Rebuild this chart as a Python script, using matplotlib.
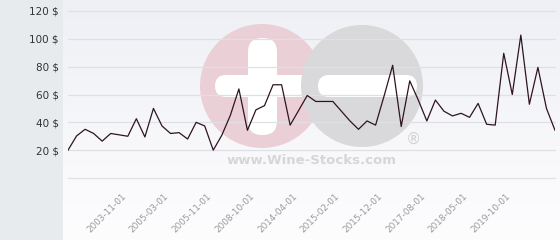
import numpy as np
import matplotlib.pyplot as plt
from matplotlib.colors import LinearSegmentedColormap
from matplotlib.patches import Circle, FancyBboxPatch

# price history (USD), one point per sample
prices = [20, 30.2, 35, 32, 26.5, 32, 31, 30, 42.6, 29.5,
          50, 37.4, 32, 32.6, 28, 40, 37.4, 20, 30.7, 45,
          64, 34.3, 49, 52, 67, 67, 38, 48.6, 59.3, 55,
          55, 55, 48, 41, 35, 41, 38, 59, 81, 37,
          69.8, 56, 41, 56, 48, 44.6, 46.5, 43.6, 53.6, 38.6,
          38, 89.6, 60, 102.7, 53, 79.5, 50, 34.3]
tick_idx = [7, 12, 17, 22, 27, 32, 37, 42, 47, 52]
tick_labels = ['2003-11-01', '2005-03-01', '2005-11-01', '2008-10-01', '2014-04-01',
               '2015-02-01', '2015-12-01', '2017-08-01', '2018-05-01', '2019-10-01']
y_ticks = [0, 20, 40, 60, 80, 100, 120]

W, H = 560, 240
fig = plt.figure(figsize=(W / 100, H / 100), dpi=100)

# background layer in pixel coordinates
bg = fig.add_axes([0, 0, 1, 1])
bg.set_xlim(0, W)
bg.set_ylim(H, 0)
bg.axis('off')
bg.add_patch(plt.Rectangle((0, 0), 63, H, color='#e7ebee', lw=0))
grad = np.linspace(0, 1, 100).reshape(-1, 1)
bg.imshow(grad, extent=(63, W, H, 0), aspect='auto', zorder=0,
          cmap=LinearSegmentedColormap.from_list('g', ['#eff0f5', '#fdfdfe']))

# watermark
bg.add_patch(Circle((262, 86), 62, color='#ead0d6', lw=0, zorder=1))
bg.add_patch(FancyBboxPatch((248, 38), 29, 97, boxstyle='round,pad=0,rounding_size=14',
                            color='white', lw=0, zorder=2))
bg.add_patch(FancyBboxPatch((215, 75), 100, 22, boxstyle='round,pad=0,rounding_size=11',
                            color='white', lw=0, zorder=2))
bg.add_patch(Circle((362, 86), 61, color='#d9d9db', lw=0, zorder=3))
bg.add_patch(FancyBboxPatch((318, 75), 99, 22, boxstyle='round,pad=0,rounding_size=11',
                            color='white', lw=0, zorder=4))
bg.text(312, 161, 'www.Wine-Stocks.com', ha='center', va='center', fontsize=9.5,
        fontweight='bold', color='#d6d6d8', zorder=4)
bg.text(413, 139, '®', ha='center', va='center', fontsize=11, color='#d2d2d4', zorder=4)

# chart
ax = fig.add_axes([68 / W, (H - 178) / H, 487 / W, 167 / H])
ax.patch.set_alpha(0)
ax.plot(range(len(prices)), prices, color='#2e1420', lw=0.9, zorder=3)
ax.set_xlim(0, len(prices) - 1)
ax.set_ylim(0, 120)
ax.set_yticks(y_ticks)
ax.set_yticklabels(['' if v == 0 else f'{v} $' for v in y_ticks])
ax.set_xticks(tick_idx)
ax.set_xticklabels(tick_labels, rotation=45, ha='right')
ax.tick_params(axis='y', length=0, pad=6.5, labelsize=7.5, labelcolor='#333333')
ax.tick_params(axis='x', length=0, pad=10, labelsize=6.4, labelcolor='#9a9a9a')
ax.grid(axis='y', color='#dfe0e6', lw=0.9)
for gl in ax.get_ygridlines():
    gl.set_clip_on(False)
ax.set_axisbelow(True)
for s in ax.spines.values():
    s.set_visible(False)

fig.savefig('out.png', dpi=100)
